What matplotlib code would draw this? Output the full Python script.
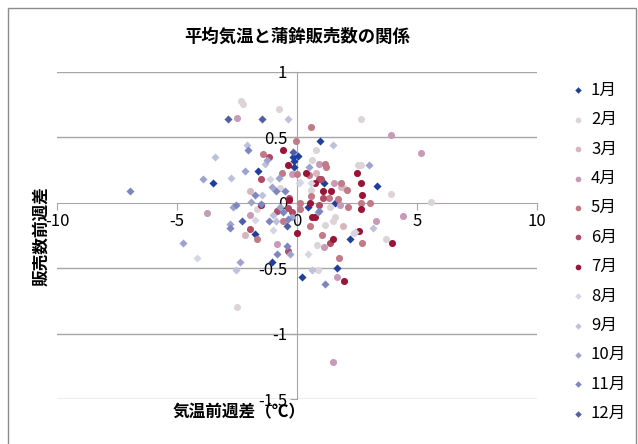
import matplotlib
matplotlib.use('Agg')
import matplotlib.pyplot as plt
from matplotlib.patches import Rectangle

plt.rcParams['font.family'] = ['Noto Sans CJK JP', 'DejaVu Sans']

# 月ごとの (気温前週差, 販売数前週差)
m01_x = [-3.49, -1.64, -0.18, 0.03, -0.11, -0.13, 0.95, 1.11, 1.58, 3.32, -1.75, -1.04, 0.19, 1.65, 2.2, 0.47]
m01_y = [0.15, 0.24, 0.35, 0.36, 0.32, 0.27, 0.47, 0.15, 0.0, 0.125, -0.24, -0.45, -0.57, -0.495, -0.28, -0.035]
m02_x = [-2.35, -2.24, -0.76, -0.71, -1.65, -2.51, 0.86, 0.85, 3.7, 2.39, 1.51, 1.15, 2.67, 2.55, 2.68, 3.93, 5.57, 1.97, 1.375, 0.61, 0.79, 0.6, 1.58]
m02_y = [0.775, 0.755, 0.72, 0.11, -0.05, -0.8, -0.51, -0.32, -0.28, -0.23, -0.14, -0.17, 0.64, 0.29, 0.29, 0.07, 0.005, 0.11, -0.03, 0.33, 0.4, 0.1, -0.11]
m03_x = [-1.94, -2.17, 1.93, 0.8, 1.82]
m03_y = [0.09, -0.25, -0.18, 0.23, 0.12]
m04_x = [-2.49, -0.2, -3.76, -1.96, -0.85, 1.67, 1.51, 1.11, 3.3, 3.93, 5.18, 4.4, 1.79, 0.92, 1.56]
m04_y = [0.65, 0.22, -0.08, -0.09, -0.316, -0.57, -1.215, -0.34, -0.14, 0.52, 0.38, -0.1, -0.02, 0.3, 0.155]
m05_x = [-1.4, -0.06, -0.61, -0.01, -1.65, 1.75, 1.04, 2.72, 0.53, 0.57, 3.04, 2.67, 2.14, 1.82, 2.1, 1.33, 1.71, 0.125, 0.125, 0.57, 0.51, 1.17, 1.21, -0.6]
m05_y = [0.375, 0.47, 0.23, 0.22, -0.275, -0.425, -0.25, -0.31, -0.18, 0.58, 0.0, 0.0, -0.03, 0.15, 0.1, 0.04, 0.03, -0.05, 0.0, 0.05, 0.21, 0.3, 0.27, -0.14]
m06_x = [-1.51, -1.15, -0.33, -1.95, -0.85, -0.375, -0.21, -0.375, 1.39, 1.07, 0.93, 0.9, 1.0]
m06_y = [0.18, 0.35, 0.035, -0.2, -0.06, -0.04, -0.07, -0.37, -0.31, 0.04, -0.02, 0.18, 0.18]
m07_x = [-0.57, -0.375, -1.49, -0.01, 1.97, 1.49, 2.6, 3.97, 2.49, 2.68, 2.71, 2.65, 1.43, 1.07, 0.625, 0.74, 0.54, 0.39, 0.76, -0.33]
m07_y = [0.405, 0.29, -0.02, -0.23, -0.6, -0.28, -0.215, -0.31, 0.23, 0.15, 0.06, -0.05, 0.09, 0.09, -0.11, -0.11, 0.0, 0.23, 0.15, 0.02]
m08_x = [-1.12, 0.1, -1.0, -4.15, 0.46, 2.4, 0.6, -1.76, 0.12]
m08_y = [0.18, 0.15, -0.21, -0.42, -0.39, -0.22, 0.15, -0.13, 0.16]
m09_x = [-3.4, -2.74, -2.1, -0.39, -1.33, -1.47, -1.0, -2.54, 0.64, 3.17, 1.51, -0.88]
m09_y = [0.35, 0.19, 0.44, 0.64, 0.3, 0.06, -0.09, -0.51, -0.51, -0.19, 0.44, -0.14]
m10_x = [-3.9, -2.17, -1.26, -0.76, -1.04, -1.9, -2.65, -2.79, -0.71, -4.75, -2.375, -0.28, 3.01, 0.51, 0.89, -0.22]
m10_y = [0.18, 0.24, 0.33, 0.19, 0.12, 0.005, -0.03, -0.16, -0.03, -0.31, -0.456, -0.39, 0.29, 0.27, -0.07, -0.11]
m11_x = [-6.96, -2.04, -1.76, -0.49, -2.54, -2.79, -1.15, -0.57, -0.39, -0.83, -0.42, 1.17, 0.92, -1.48, -0.88]
m11_y = [0.094, 0.4, 0.06, 0.09, -0.02, -0.19, -0.14, -0.07, -0.125, -0.39, -0.33, -0.62, -0.06, -0.01, 0.09]
m12_x = [-2.86, -1.46, -2.28, -0.4, -0.15]
m12_y = [0.64, 0.64, -0.14, -0.18, 0.39]

labels = ['1月', '2月', '3月', '4月', '5月', '6月', '7月', '8月', '9月', '10月', '11月', '12月']
xs = [m01_x, m02_x, m03_x, m04_x, m05_x, m06_x, m07_x, m08_x, m09_x, m10_x, m11_x, m12_x]
ys = [m01_y, m02_y, m03_y, m04_y, m05_y, m06_y, m07_y, m08_y, m09_y, m10_y, m11_y, m12_y]
colors = ['#1F3F9F', '#DCD4D8', '#D5B7BD', '#C89ABA', '#C07A88', '#B04B64', '#9A1438',
          '#D4D7E3', '#BDC1DC', '#9EA3CE', '#7D86C1', '#4F5DAB']
markers = ['D', 'o', 'o', 'o', 'o', 'o', 'o', 'D', 'D', 'D', 'D', 'D']

fig = plt.figure(figsize=(6.38, 4.44), dpi=100)
fig.patches.append(Rectangle((8 / 638, -0.02), 628 / 638, 1.0 - 8 / 444 + 0.02,
                             transform=fig.transFigure, fill=False,
                             edgecolor='#8C8C8C', linewidth=1))

ax = fig.add_axes([57 / 638, 45 / 444, 480 / 638, 327 / 444])

# 横の目盛線
for g in [1.0, 0.5, -0.5, -1.0, -1.5]:
    ax.axhline(g, color='#A6A6A6', linewidth=1, zorder=0)

for x, y, c, m, lab in zip(xs, ys, colors, markers, labels):
    s = 26 if m == 'o' else 17
    ax.scatter(x, y, s=s, c=c, marker=m, label=lab, linewidths=0, zorder=3)

ax.set_xlim(-10, 10)
ax.set_ylim(-1.5, 1)
for side in ['top', 'right']:
    ax.spines[side].set_visible(False)
ax.spines['left'].set_position(('data', 0))
ax.spines['bottom'].set_position(('data', 0))
ax.spines['left'].set_color('#A6A6A6')
ax.spines['bottom'].set_color('#A6A6A6')
ax.spines['left'].set_zorder(1)
ax.spines['bottom'].set_zorder(1)

ax.set_xticks([-10, -5, 0, 5, 10])
ax.set_xticklabels(['-10', '-5', '0', '5', '10'])
ax.set_yticks([1, 0.5, 0, -0.5, -1, -1.5])
ax.set_yticklabels(['1', '0.5', '0', '-0.5', '-1', '-1.5'])
ax.tick_params(axis='x', direction='out', length=5, color='#A6A6A6', labelsize=12, pad=2)
ax.tick_params(axis='y', direction='out', length=5, color='#A6A6A6', labelsize=12, pad=2)

fig.text(297 / 638, 1 - 37 / 444, '平均気温と蒲鉾販売数の関係', ha='center', va='center',
         fontsize=12.5, fontweight='bold')
fig.text(239 / 638, 1 - 412 / 444, '気温前週差（℃）', ha='center', va='center',
         fontsize=12, fontweight='bold')
fig.text(41 / 638, 1 - 236 / 444, '販売数前週差', ha='center', va='center',
         rotation=90, fontsize=12, fontweight='bold')

fig.legend(loc='upper left', bbox_to_anchor=(566 / 638, 1 - 75 / 444), frameon=False,
           fontsize=12, labelspacing=0.745, handlelength=0.6, handletextpad=0.5,
           borderaxespad=0, markerscale=0.8)

fig.savefig('out.png', dpi=100)
